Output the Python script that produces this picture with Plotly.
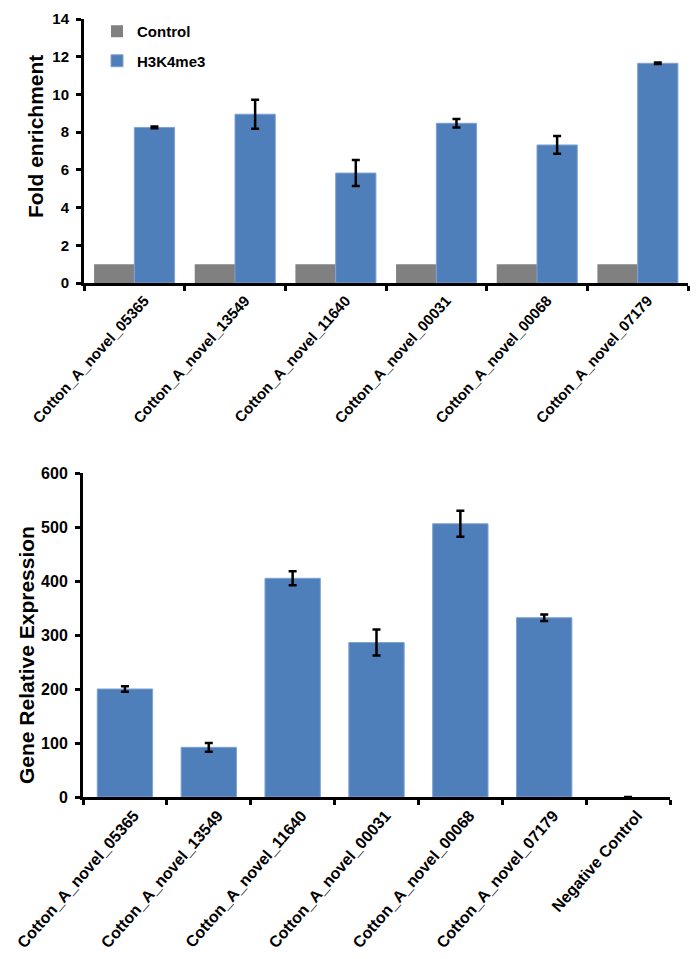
import plotly.graph_objects as go

# ---------------- data ----------------
genes = ["Cotton_A_novel_05365", "Cotton_A_novel_13549", "Cotton_A_novel_11640",
         "Cotton_A_novel_00031", "Cotton_A_novel_00068", "Cotton_A_novel_07179"]
control_vals = [1.0, 1.0, 1.0, 1.0, 1.0, 1.0]
h3k4me3_vals = [8.25, 8.95, 5.83, 8.47, 7.32, 11.65]
h3k4me3_err = [0.05, 0.77, 0.69, 0.23, 0.47, 0.04]

expr_cats = genes + ["Negative Control"]
expr_vals = [200, 92, 405, 286, 506, 332, 0]
expr_err = [5, 8, 13, 24, 24, 6, None]

# page body has an 8px margin, so the figure sits at (8, 8)
OFF = 8
W, H = 700 - OFF, 959 - OFF
FONT = "Liberation Sans, Arial, sans-serif"
GRAY = "#808080"
BLUE = "#4f7fbb"
EDGE = "#7fa2d0"

def px_x(p):
    return (p - OFF) / W

def px_y(p):
    return 1 - (p - OFF) / H

fig = go.Figure()

fig.add_trace(go.Bar(
    x=genes, y=control_vals, name="Control", marker=dict(color=GRAY, line=dict(width=0)),
    xaxis="x", yaxis="y", legendgroup="a",
))
fig.add_trace(go.Bar(
    x=genes, y=h3k4me3_vals, name="H3K4me3",
    marker=dict(color=BLUE, line=dict(width=1, color=EDGE)),
    error_y=dict(type="data", array=h3k4me3_err, color="black", thickness=2.5, width=4),
    xaxis="x", yaxis="y", legendgroup="b",
))
fig.add_trace(go.Bar(
    x=expr_cats, y=expr_vals, name="expr", showlegend=False,
    marker=dict(color=BLUE, line=dict(width=[1 if v else 0 for v in expr_vals], color=EDGE)),
    error_y=dict(type="data", array=expr_err, color="black", thickness=2.5, width=4),
    xaxis="x2", yaxis="y2", width=0.66,
))

axis_common = dict(showline=True, linecolor="black", linewidth=3, ticks="outside",
                   tickcolor="black", tickwidth=3, ticklen=5, showgrid=False,
                   zeroline=False, automargin=False)

fig.update_layout(
    width=W, height=H, autosize=False,
    margin=dict(l=0, r=0, t=0, b=0),
    paper_bgcolor="white", plot_bgcolor="white",
    barmode="group", bargap=0.2, bargroupgap=0,
    font=dict(family=FONT, color="black"),
    xaxis=dict(domain=[px_x(84), px_x(688)], anchor="y", type="category",
               tickson="boundaries", tickangle=-48, ticklabelshift=10,
               tickfont=dict(family=FONT, size=15, weight="bold", color="black"),
               **axis_common),
    yaxis=dict(domain=[px_y(283), px_y(19)], anchor="x", range=[0, 14], dtick=2,
               ticklabelstandoff=4,
               tickfont=dict(family=FONT, size=15, weight="bold", color="black"),
               **axis_common),
    xaxis2=dict(domain=[px_x(83), px_x(670)], anchor="y2", type="category",
                tickson="boundaries", tickangle=-49, ticklabelshift=9,
                tickfont=dict(family=FONT, size=16, weight="bold", color="black"),
                **axis_common),
    yaxis2=dict(domain=[px_y(797), px_y(473)], anchor="x2", range=[0, 600], dtick=100,
                ticklabelstandoff=4,
                tickfont=dict(family=FONT, size=16, weight="bold", color="black"),
                **axis_common),
    legend=dict(x=px_x(97), y=px_y(15), xanchor="left", yanchor="top",
                traceorder="grouped", tracegroupgap=7,
                font=dict(family=FONT, size=15, weight="bold", color="black"),
                bgcolor="rgba(0,0,0,0)"),
    annotations=[
        dict(text="<b>Fold enrichment</b>", x=px_x(35), y=px_y(137), xref="paper", yref="paper",
             textangle=-90, showarrow=False, xanchor="center", yanchor="middle",
             font=dict(family=FONT, size=21, color="black")),
        dict(text="<b>Gene Relative Expression</b>", x=px_x(26), y=px_y(655), xref="paper", yref="paper",
             textangle=-90, showarrow=False, xanchor="center", yanchor="middle",
             font=dict(family=FONT, size=21, color="black")),
    ],
)

fig.write_html("out.html")
